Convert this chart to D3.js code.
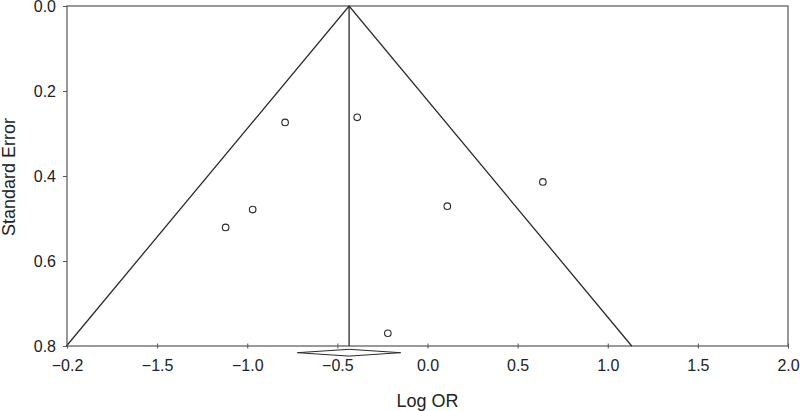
<!DOCTYPE html>
<html>
<head>
<meta charset="utf-8">
<script src="https://cdn.jsdelivr.net/npm/d3@7"></script>
<style>
  body { margin: 0; background: #fff; }
  svg { font-family: "Liberation Sans", Arial, sans-serif; }
</style>
</head>
<body>
<div id="chart"></div>
<script>
// study estimates (log odds ratio, standard error)
var logOR = [-0.79, -0.39, -0.97, -1.12, 0.11, 0.64, -0.22];
var stdErr = [0.274, 0.262, 0.479, 0.521, 0.471, 0.414, 0.770];

// pooled estimate and its confidence interval
var pooled = -0.435;
var pooledCI = [-0.722, -0.149];

var xTicks = [-2, -1.5, -1, -0.5, 0, 0.5, 1, 1.5, 2];
var xTickLabels = ["\u22120.2", "\u22121.5", "\u22121.0", "\u22120.5", "0.0", "0.5", "1.0", "1.5", "2.0"];
var yTicks = [0, 0.2, 0.4, 0.6, 0.8];

var width = 800, height = 411;
var margin = {top: 6, right: 12, bottom: 65, left: 67};
var w = width - margin.left - margin.right;
var h = height - margin.top - margin.bottom;

var svg = d3.select("#chart").append("svg")
    .attr("width", width)
    .attr("height", height);

var g = svg.append("g")
    .attr("transform", "translate(" + margin.left + "," + margin.top + ")");

var x = d3.scaleLinear().domain([-2, 2]).range([0, w]);
var y = d3.scaleLinear().domain([0, 0.8]).range([0, h]);

var ink = "#2a2a2a";

// frame
g.append("rect")
    .attr("width", w).attr("height", h)
    .attr("fill", "none").attr("stroke", "#555").attr("stroke-width", 1.2);

// funnel (95% pseudo-CI)
var seMax = 0.8;
g.append("path")
    .attr("d", d3.line()([
        [x(pooled - 1.96 * seMax), y(seMax)],
        [x(pooled), y(0)],
        [x(pooled + 1.96 * seMax), y(seMax)]
    ]))
    .attr("fill", "none").attr("stroke", ink).attr("stroke-width", 1.3);

// pooled estimate line
g.append("line")
    .attr("x1", x(pooled)).attr("x2", x(pooled))
    .attr("y1", y(0)).attr("y2", y(seMax))
    .attr("stroke", ink).attr("stroke-width", 1.3);

// x axis
var xAxis = g.append("g")
    .attr("transform", "translate(0," + h + ")")
    .call(d3.axisBottom(x).tickValues(xTicks).tickSize(2.5)
        .tickFormat(function (d, i) { return xTickLabels[i]; }));
xAxis.select(".domain").remove();
xAxis.selectAll(".tick line").attr("y1", -2.5).attr("stroke", "#555");
xAxis.selectAll("text").attr("font-size", 16).attr("fill", "#222").attr("y", 14).attr("dy", "0.71em");

// y axis
var yAxis = g.append("g")
    .call(d3.axisLeft(y).tickValues(yTicks).tickSize(4).tickFormat(d3.format(".1f")));
yAxis.select(".domain").remove();
yAxis.selectAll(".tick line").attr("stroke", "#555");
yAxis.selectAll("text").attr("font-size", 16).attr("fill", "#222").attr("x", -11);

// diamond for pooled CI
var dy = h + 6.7, dh = 3.4;
g.append("path")
    .attr("d", d3.line()([
        [x(pooledCI[0]), dy],
        [x(pooled), dy - dh],
        [x(pooledCI[1]), dy],
        [x(pooled), dy + dh]
    ]) + "Z")
    .attr("fill", "#fff").attr("stroke", ink).attr("stroke-width", 1);

// study points
g.selectAll(".pt")
    .data(logOR)
    .enter().append("circle")
    .attr("class", "pt")
    .attr("cx", function (d) { return x(d); })
    .attr("cy", function (d, i) { return y(stdErr[i]); })
    .attr("r", 3.3)
    .attr("fill", "none").attr("stroke", ink).attr("stroke-width", 1.1);

// axis titles
svg.append("text")
    .attr("x", 427.5).attr("y", 406.5)
    .attr("text-anchor", "middle").attr("font-size", 18).attr("fill", "#222")
    .text("Log OR");

svg.append("text")
    .attr("transform", "translate(15,177) rotate(-90)")
    .attr("text-anchor", "middle").attr("font-size", 18).attr("fill", "#222")
    .text("Standard Error");
</script>
</body>
</html>
